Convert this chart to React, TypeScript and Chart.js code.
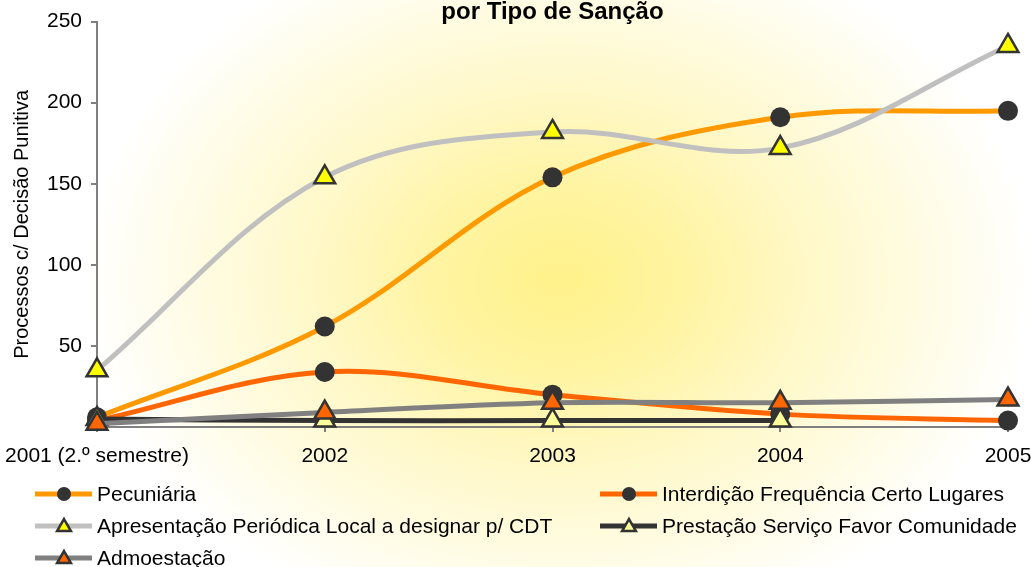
import { useEffect, useRef } from 'react';
import { Chart, registerables } from 'chart.js';

Chart.register(...registerables);

const categories = ['2001 (2.º semestre)', '2002', '2003', '2004', '2005'];
const pecuniaria = [6, 62, 154, 191, 195];
const interdicao = [4, 34, 20, 8, 4];
const apresentacao = [35, 154, 182, 172, 235];
const prestacao = [5, 4, 4, 4, null];
const admoestacao = [2, 9, 15, 15, 17];
const seriesNames = [
  'Pecuniária',
  'Interdição Frequência Certo Lugares',
  'Apresentação Periódica Local a designar p/ CDT',
  'Prestação Serviço Favor Comunidade',
  'Admoestação',
];
const titleText = 'por Tipo de Sanção';
const yTitleText = 'Processos c/ Decisão Punitiva';

const FONT = '"Liberation Sans", Arial, sans-serif';

const bgPlugin = {
  id: 'bgGradient',
  beforeDraw(chart: any) {
    const { ctx, width, height } = chart;
    ctx.save();
    ctx.fillStyle = '#ffffff';
    ctx.fillRect(0, 0, width, height);
    const cx = 560, cy = 280, rx = 500, ry = 380;
    ctx.translate(cx, cy);
    ctx.scale(1, ry / rx);
    const g = ctx.createRadialGradient(0, 0, 0, 0, 0, rx);
    g.addColorStop(0, '#FFF18A');
    g.addColorStop(0.25, '#FFF4A2');
    g.addColorStop(0.5, '#FFF8C8');
    g.addColorStop(0.75, '#FFFCE6');
    g.addColorStop(0.95, '#FFFFFF');
    g.addColorStop(1, '#FFFFFF');
    ctx.fillStyle = g;
    ctx.fillRect(-cx - 10, -height * 2, width + 20, height * 4);
    ctx.restore();
  },
};

function drawMarker(ctx: CanvasRenderingContext2D, style: string, x: number, y: number, r: number, fill: string, stroke: string, bw: number) {
  ctx.beginPath();
  if (style === 'triangle') {
    for (let k = 0; k < 3; k++) {
      const a = -Math.PI / 2 + (k * 2 * Math.PI) / 3;
      const px = x + Math.cos(a) * r;
      const py = y + Math.sin(a) * r;
      if (k === 0) ctx.moveTo(px, py); else ctx.lineTo(px, py);
    }
    ctx.closePath();
  } else {
    ctx.arc(x, y, r, 0, Math.PI * 2);
  }
  ctx.fillStyle = fill;
  ctx.fill();
  if (bw > 0) {
    ctx.lineWidth = bw;
    ctx.strokeStyle = stroke;
    ctx.lineJoin = 'miter';
    ctx.stroke();
  }
}

const overlayPlugin = {
  id: 'overlay',
  afterDraw(chart: any) {
    const { ctx, chartArea } = chart;
    ctx.save();
    // title
    ctx.fillStyle = '#000';
    ctx.font = `bold 24px ${FONT}`;
    ctx.textAlign = 'center';
    ctx.textBaseline = 'middle';
    ctx.fillText(titleText, (chartArea.left + chartArea.right) / 2, 12);
    // legend
    ctx.font = `21px ${FONT}`;
    ctx.textAlign = 'left';
    chart.data.datasets.forEach((ds: any, i: number) => {
      const col = i % 2;
      const row = Math.floor(i / 2);
      const x0 = col === 0 ? 35 : 600;
      const y = 494 + row * 32;
      ctx.beginPath();
      ctx.moveTo(x0, y);
      ctx.lineTo(x0 + 57, y);
      ctx.lineWidth = 5;
      ctx.strokeStyle = ds.borderColor;
      ctx.lineCap = 'butt';
      ctx.stroke();
      const r = ds.pointStyle === 'triangle' ? 8 : 7;
      drawMarker(ctx, ds.pointStyle, x0 + 29, y + (ds.pointStyle === 'triangle' ? 1 : 0), r, ds.pointBackgroundColor, ds.pointBorderColor, ds.pointBorderWidth);
      ctx.fillStyle = '#000';
      ctx.fillText(ds.label, x0 + 62, y + 1);
    });
    ctx.restore();
  },
};

export default function App() {
  const ref = useRef<HTMLCanvasElement | null>(null);
  useEffect(() => {
    if (!ref.current) return;
    Chart.defaults.font.family = FONT;
    const common = { borderWidth: 5, tension: 0.35, clip: false as any, spanGaps: false };
    const chart = new Chart(ref.current, {
      type: 'line',
      data: {
        labels: categories,
        datasets: [
          { ...common, label: seriesNames[0], data: pecuniaria, borderColor: '#FF9900', pointStyle: 'circle', pointRadius: 10, pointBackgroundColor: '#333333', pointBorderColor: '#333333', pointBorderWidth: 0, order: 5 },
          { ...common, label: seriesNames[1], data: interdicao, borderColor: '#FF6600', pointStyle: 'circle', pointRadius: 10, pointBackgroundColor: '#333333', pointBorderColor: '#333333', pointBorderWidth: 0, order: 4 },
          { ...common, label: seriesNames[2], data: apresentacao, borderColor: '#C0C0C0', pointStyle: 'triangle', pointRadius: 12, pointBackgroundColor: '#FFFF00', pointBorderColor: '#333333', pointBorderWidth: 2.5, order: 3 },
          { ...common, label: seriesNames[3], data: prestacao, borderColor: '#333333', pointStyle: 'triangle', pointRadius: 12, pointBackgroundColor: '#FFFF99', pointBorderColor: '#333333', pointBorderWidth: 2.5, order: 2 },
          { ...common, label: seriesNames[4], data: admoestacao, borderColor: '#808080', pointStyle: 'triangle', pointRadius: 12, pointBackgroundColor: '#FF6600', pointBorderColor: '#333333', pointBorderWidth: 2.5, order: 1 },
        ] as any,
      },
      options: {
        responsive: false,
        animation: false,
        events: [],
        layout: { padding: { left: 1, top: 5, right: 0, bottom: 87 } },
        plugins: { legend: { display: false }, title: { display: false }, tooltip: { enabled: false } },
        scales: {
          x: {
            type: 'category',
            offset: false,
            grid: { drawOnChartArea: false, tickLength: 5, color: '#808080', lineWidth: 2 },
            border: { color: '#808080', width: 2 },
            ticks: { font: { size: 21, lineHeight: 1.9 }, color: '#000', padding: 4, maxRotation: 0, autoSkip: false },
            afterFit: (scale: any) => {
              scale.paddingLeft = 0;
              scale.paddingRight = 23;
            },
          },
          y: {
            min: 0,
            max: 250,
            grid: { drawOnChartArea: false, tickLength: 6, color: '#808080', lineWidth: 2 },
            border: { color: '#808080', width: 2 },
            ticks: { stepSize: 50, font: { size: 21 }, color: '#000', padding: 9, callback: (v: any) => (v === 0 ? '' : String(v)) },
            title: { display: true, text: yTitleText, font: { size: 20 }, color: '#000', padding: { top: 9, bottom: 4 } },
            afterFit: (scale: any) => {
              scale.width = 96;
            },
          },
        },
      },
      plugins: [bgPlugin, overlayPlugin],
    });
    return () => chart.destroy();
  }, []);
  return (
    <div style={{ position: 'absolute', left: 0, top: 0, width: 1031, height: 567 }}>
      <canvas ref={ref} width={1031} height={567} style={{ display: 'block' }} />
    </div>
  );
}
